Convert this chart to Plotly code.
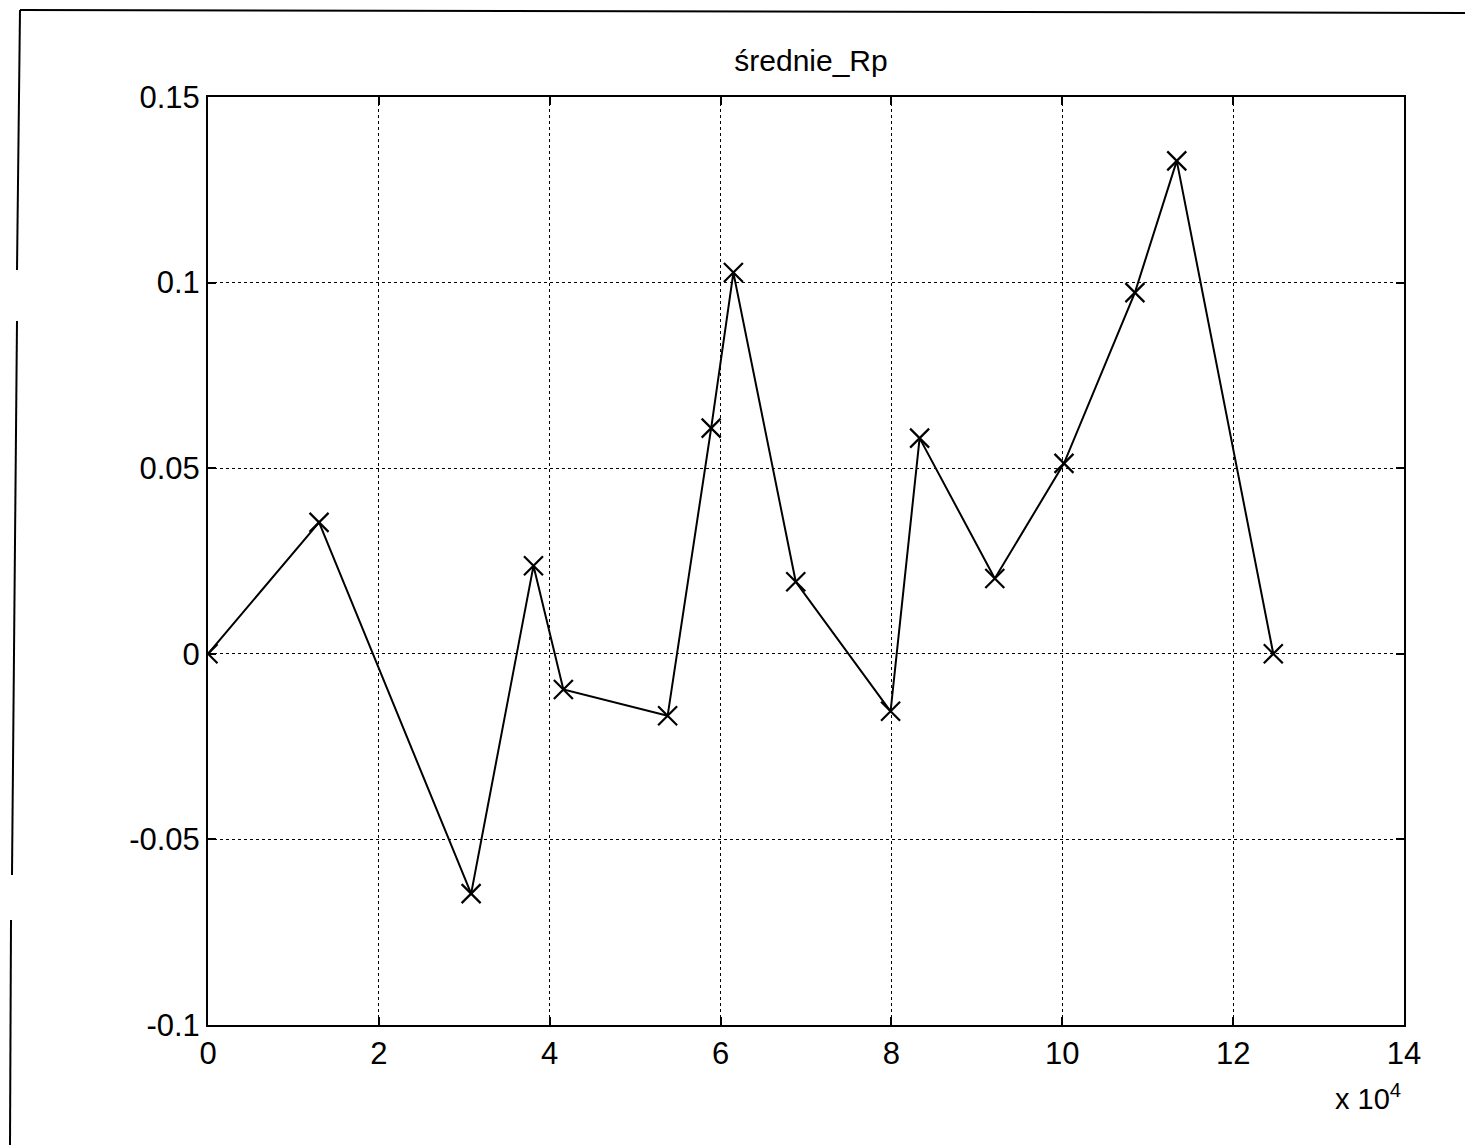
import plotly.graph_objects as go

# data (x in units of 1e4 as displayed; the multiplier is shown separately)
x_vals = [0.0, 1.30, 3.08, 3.81, 4.16, 5.38, 5.89, 6.15, 6.88, 7.99, 8.33, 9.21, 10.02, 10.85, 11.34, 12.47]
y_vals = [0.0, 0.0354, -0.0646, 0.0237, -0.0096, -0.0167, 0.0608, 0.1027, 0.0194, -0.0155, 0.0581, 0.0203, 0.0513, 0.0973, 0.1328, 0.0]
x_ticks = [0, 2, 4, 6, 8, 10, 12, 14]
y_ticks = [-0.1, -0.05, 0, 0.05, 0.1, 0.15]
y_tick_labels = ["-0.1", "-0.05", "0", "0.05", "0.1", "0.15"]
title_text = "średnie_Rp"

# page body has an 8px margin, so the figure is drawn 8px in from the window edge
OFF = 8
W, H = 1473 - OFF, 1145 - OFF
L, R, T, B = 200, 69, 89, 120

fig = go.Figure()
fig.add_trace(go.Scatter(
    x=x_vals, y=y_vals, mode="lines+markers",
    line=dict(color="black", width=2),
    marker=dict(symbol="x-thin", size=19, line=dict(color="black", width=2.2), color="black"),
    showlegend=False,
))

font = dict(family="Liberation Sans, Arial, sans-serif", color="black")

def px(xp):
    # image pixel x -> paper x
    return (xp - OFF - L) / (W - L - R)

def py(yp):
    # image pixel y -> paper y
    return ((H - B) - (yp - OFF)) / (H - T - B)

fig.update_layout(
    width=W, height=H,
    margin=dict(l=L, r=R, t=T, b=B),
    paper_bgcolor="white", plot_bgcolor="white",
    title=dict(text=title_text, x=(L + (W - R)) / 2 / W + 5 / W, xanchor="center",
               y=1 - (60 - OFF) / H, yanchor="middle", font=dict(size=30, **font)),
    xaxis=dict(range=[0, 14], tickvals=x_ticks, ticktext=[str(t) for t in x_ticks],
               showgrid=True, gridcolor="black", griddash="dot", gridwidth=1,
               showline=True, linecolor="black", linewidth=2, mirror="ticks",
               ticks="inside", ticklen=8, tickcolor="black", tickwidth=1.5,
               tickfont=dict(size=31, **font), zeroline=False),
    yaxis=dict(range=[-0.1, 0.15], tickvals=y_ticks, ticktext=y_tick_labels,
               showgrid=True, gridcolor="black", griddash="dot", gridwidth=1,
               showline=True, linecolor="black", linewidth=2, mirror="ticks",
               ticks="inside", ticklen=8, tickcolor="black", tickwidth=1.5,
               tickfont=dict(size=31, **font), zeroline=False),
)

# "x 10^4" multiplier
fig.add_annotation(text="x 10<sup>4</sup>", xref="paper", yref="paper",
                   x=px(1403), y=py(1097),
                   xanchor="right", yanchor="middle", showarrow=False,
                   font=dict(size=29, **font))

# scanned page border fragments (image pixel coordinates)
border = [((20, 10), (1473, 13)), ((20, 10), (17, 270)), ((17, 321), (12, 875)), ((11, 920), (10, 1145))]
for (x0, y0), (x1, y1) in border:
    fig.add_shape(type="line", xref="paper", yref="paper",
                  x0=px(x0), y0=py(y0), x1=px(x1), y1=py(y1),
                  line=dict(color="black", width=2), layer="above")

fig.write_html("out.html")
